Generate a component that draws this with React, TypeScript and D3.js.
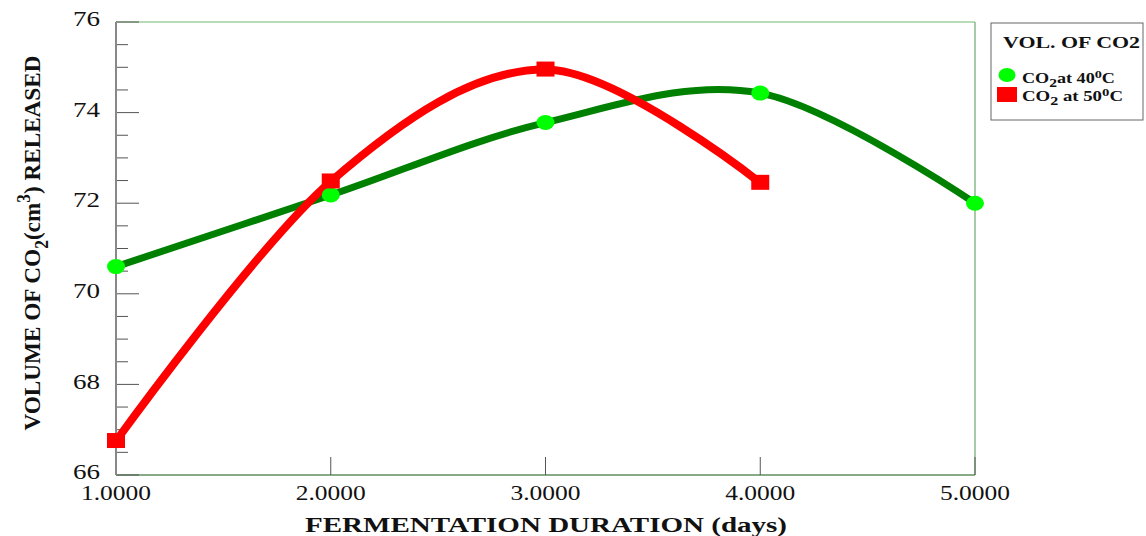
import React, { useEffect, useRef } from "react";
import * as d3 from "d3";

const days = [1, 2, 3, 4, 5];
const co2At40 = [70.6, 72.18, 73.78, 74.43, 72.0];
const daysAt50 = [1, 2, 3, 4];
const co2At50 = [66.75, 72.48, 74.95, 72.45];
const yTicks = [66, 68, 70, 72, 74, 76];

const FONT = "'Liberation Serif', 'Times New Roman', serif";

export default function App() {
  const ref = useRef<SVGSVGElement>(null);

  useEffect(() => {
    const svg = d3.select(ref.current);
    svg.selectAll("*").remove();

    const margin = { top: 22, right: 171, bottom: 61, left: 116 };
    const W = 1146, H = 536;
    const w = W - margin.left - margin.right;
    const h = H - margin.top - margin.bottom;

    const g = svg.append("g").attr("transform", `translate(${margin.left},${margin.top})`);

    const x = d3.scaleLinear().domain([1, 5]).range([0, w]);
    const y = d3.scaleLinear().domain([66, 76]).range([h, 0]);

    // frame (top / right / bottom in green)
    g.append("line").attr("x1", 0).attr("x2", w).attr("y1", 0).attr("y2", 0)
      .attr("stroke", "#9fd09f").attr("stroke-width", 1.5);
    g.append("line").attr("x1", w).attr("x2", w).attr("y1", 0).attr("y2", h)
      .attr("stroke", "#6aa86a").attr("stroke-width", 1.2);
    g.append("line").attr("x1", 0).attr("x2", w).attr("y1", h).attr("y2", h)
      .attr("stroke", "#5f8f5f").attr("stroke-width", 1.5);

    // y axis: major + minor ticks pointing inward
    const minor = d3.range(66, 76.01, 0.5).filter(v => !yTicks.includes(v));
    g.selectAll(".ymin").data(minor).join("line").attr("class", "ymin")
      .attr("x1", 0).attr("x2", 12).attr("y1", d => y(d)).attr("y2", d => y(d))
      .attr("stroke", "#555").attr("stroke-width", 1);
    g.selectAll(".ymaj").data(yTicks).join("line").attr("class", "ymaj")
      .attr("x1", 0).attr("x2", 23).attr("y1", d => y(d)).attr("y2", d => y(d))
      .attr("stroke", "#555").attr("stroke-width", 1);
    g.append("line").attr("x1", 0).attr("x2", 0).attr("y1", 0).attr("y2", h)
      .attr("stroke", "#888").attr("stroke-width", 2);
    g.selectAll(".ylab").data(yTicks).join("text").attr("class", "ylab")
      .attr("x", -16).attr("y", d => y(d)).attr("dy", "0.2em")
      .attr("text-anchor", "end").style("font-family", FONT).style("font-size", "21px")
      .attr("textLength", 27).attr("lengthAdjust", "spacingAndGlyphs")
      .attr("fill", "#111").text(d => d);

    // x axis ticks pointing up
    g.selectAll(".xtk").data(days.slice(1)).join("line").attr("class", "xtk")
      .attr("x1", d => x(d)).attr("x2", d => x(d)).attr("y1", h).attr("y2", h - 18)
      .attr("stroke", "#555").attr("stroke-width", 1);
    g.selectAll(".xlab").data(days).join("text").attr("class", "xlab")
      .attr("x", d => x(d)).attr("y", h + 25).attr("text-anchor", "middle")
      .style("font-family", FONT).style("font-size", "21px").attr("fill", "#111")
      .attr("textLength", 70).attr("lengthAdjust", "spacingAndGlyphs")
      .text(d => d.toFixed(4));

    // titles
    svg.append("text").attr("x", 546).attr("y", 532)
      .attr("text-anchor", "middle").style("font-family", FONT).style("font-size", "22px")
      .style("font-weight", "bold").attr("fill", "#111")
      .attr("textLength", 482).attr("lengthAdjust", "spacingAndGlyphs")
      .text("FERMENTATION DURATION (days)");

    const yt = svg.append("text").attr("transform", "translate(40,243) rotate(-90)")
      .attr("text-anchor", "middle").style("font-family", FONT).style("font-size", "24px")
      .style("font-weight", "bold").attr("fill", "#111")
      .attr("textLength", 375).attr("lengthAdjust", "spacingAndGlyphs");
    yt.append("tspan").text("VOLUME OF CO");
    yt.append("tspan").attr("dy", 8).style("font-size", "18px").text("2");
    yt.append("tspan").attr("dy", -8).text("(cm");
    yt.append("tspan").attr("dy", -10).style("font-size", "18px").text("3");
    yt.append("tspan").attr("dy", 10).text(") RELEASED");

    // lines
    const pts40 = days.map((d, i) => [x(d), y(co2At40[i])] as [number, number]);
    const pts50 = daysAt50.map((d, i) => [x(d), y(co2At50[i])] as [number, number]);
    const lineFn = d3.line().curve(d3.curveCardinal.tension(0));

    g.append("path").attr("d", lineFn(pts40)).attr("fill", "none")
      .attr("stroke", "#008000").attr("stroke-width", 7);
    g.append("path").attr("d", lineFn(pts50)).attr("fill", "none")
      .attr("stroke", "#ff0000").attr("stroke-width", 8);

    g.selectAll(".m40").data(pts40).join("ellipse").attr("class", "m40")
      .attr("cx", d => d[0]).attr("cy", d => d[1]).attr("rx", 9).attr("ry", 7.5)
      .attr("fill", "#00ff00");
    g.selectAll(".m50").data(pts50).join("rect").attr("class", "m50")
      .attr("x", d => d[0] - 9).attr("y", d => d[1] - 8).attr("width", 18).attr("height", 15)
      .attr("fill", "#ff0000");

    // legend
    const lg = svg.append("g").attr("transform", "translate(991,23)");
    lg.append("rect").attr("x", 0).attr("y", 0).attr("width", 152).attr("height", 97)
      .attr("fill", "#fff").attr("stroke", "#666").attr("stroke-width", 1);
    lg.append("text").attr("x", 12).attr("y", 25).style("font-family", FONT)
      .style("font-size", "17px").style("font-weight", "bold").attr("fill", "#111")
      .attr("textLength", 137).attr("lengthAdjust", "spacingAndGlyphs")
      .text("VOL. OF CO2");
    lg.append("ellipse").attr("cx", 16).attr("cy", 52).attr("rx", 8.5).attr("ry", 7).attr("fill", "#00ff00");
    lg.append("rect").attr("x", 6).attr("y", 64).attr("width", 20).attr("height", 15).attr("fill", "#ff0000");

    const item = (yy: number, a: string, b: string, len: number) => {
      const t = lg.append("text").attr("x", 31).attr("y", yy).style("font-family", FONT)
        .style("font-size", "14px").style("font-weight", "bold").attr("fill", "#111")
        .attr("textLength", len).attr("lengthAdjust", "spacingAndGlyphs");
      t.append("tspan").text("CO");
      t.append("tspan").attr("dy", 4).style("font-size", "12px").text("2");
      t.append("tspan").attr("dy", -4).text(a);
      t.append("tspan").attr("dy", -5).style("font-size", "11px").text("0");
      t.append("tspan").attr("dy", 5).text(b);
    };
    item(60, "at 40", "C", 93);
    item(78, " at 50", "C", 101);
  }, []);

  return (
    <div style={{ position: "absolute", left: 0, top: 0 }}>
      <svg ref={ref} width={1146} height={536} style={{ display: "block", background: "#fff" }} />
    </div>
  );
}
